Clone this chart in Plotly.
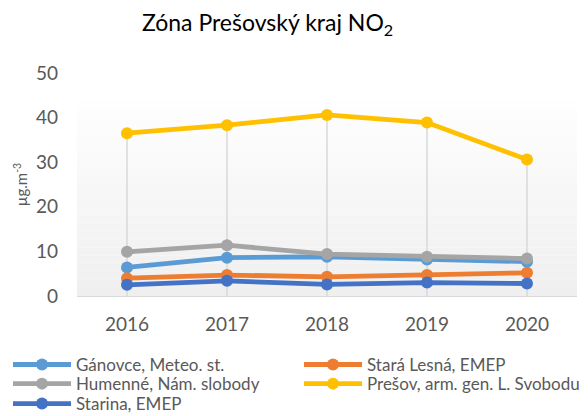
import plotly.graph_objects as go

years = ["2016", "2017", "2018", "2019", "2020"]

ganovce = [6.4, 8.6, 8.8, 8.2, 7.7]
stara_lesna = [4.0, 4.7, 4.3, 4.7, 5.2]
humenne = [9.9, 11.4, 9.4, 8.8, 8.4]
presov = [36.5, 38.3, 40.6, 38.9, 30.6]
starina = [2.5, 3.4, 2.6, 3.0, 2.8]

series = [
    ("Gánovce, Meteo. st.", ganovce, "#5B9BD5"),
    ("Stará Lesná, EMEP", stara_lesna, "#ED7D31"),
    ("Humenné, Nám. slobody", humenne, "#A5A5A5"),
    ("Prešov, arm. gen. L. Svobodu", presov, "#FFC000"),
    ("Starina, EMEP", starina, "#4472C4"),
]

y_ticks = [0, 10, 20, 30, 40, 50]

FONT = "Lato"
TEXT = "#595959"

fig = go.Figure()

# drop lines from the highest value of each year down to the axis
drop_x, drop_y = [], []
for i, yr in enumerate(years):
    top = max(s[1][i] for s in series)
    drop_x += [yr, yr, None]
    drop_y += [0, top, None]
fig.add_trace(go.Scatter(x=drop_x, y=drop_y, mode="lines",
                         line=dict(color="#D9D9D9", width=1.5),
                         hoverinfo="skip", showlegend=False))

# each series gets its own legend box so the entries form a 2-column grid
legend_ids = ["legend", "legend2", "legend3", "legend4", "legend5"]
for (name, vals, color), lg in zip(series, legend_ids):
    fig.add_trace(go.Scatter(
        x=years, y=vals, name=name, mode="lines+markers",
        line=dict(color=color, width=4.8),
        marker=dict(color=color, size=12),
        legend=lg,
    ))

# soft vertical gradient behind the plot
shapes = []
n = 24
g_top, g_bot = 43.5, 0.0
c_top, c_bot = 254, 239
for k in range(n):
    y0 = g_bot + (g_top - g_bot) * k / n
    y1 = g_bot + (g_top - g_bot) * (k + 1) / n
    c = round(c_bot + (c_top - c_bot) * (k + 0.5) / n)
    shapes.append(dict(type="rect", xref="paper", yref="y", x0=0, x1=1,
                       y0=y0, y1=y1, fillcolor=f"rgb({c},{c},{c})",
                       line=dict(width=0), layer="below"))


def entry_legend(xleft, ytop):
    return dict(orientation="h", xref="container", yref="container",
                x=xleft, xanchor="left", y=ytop, yanchor="top",
                font=dict(family=FONT, size=17, color=TEXT),
                itemwidth=58, bgcolor="rgba(0,0,0,0)")


col_x = [8 / 588, 299 / 588]
row_y = [0.166, 0.120, 0.072]

fig.update_layout(
    width=588, height=416,
    margin=dict(l=77, r=11, t=73, b=120, autoexpand=False),
    paper_bgcolor="white", plot_bgcolor="white",
    shapes=shapes,
    title=dict(text="Zóna Prešovský kraj NO<sub>2</sub>",
               font=dict(family=FONT, size=23, color="#000000"),
               x=0.455, xanchor="center", y=0.945, yanchor="middle"),
    font=dict(family=FONT, color=TEXT),
    xaxis=dict(type="category", range=[-0.5, 4.5], showgrid=False,
               showline=True, linecolor="#D9D9D9", linewidth=1.3,
               ticks="", ticklabelstandoff=11,
               tickfont=dict(family=FONT, size=19, color=TEXT),
               zeroline=False),
    yaxis=dict(range=[0, 50], tickvals=y_ticks, showgrid=False,
               showline=False, zeroline=False, ticks="",
               ticklabelstandoff=18,
               tickfont=dict(family=FONT, size=19, color=TEXT),
               title=dict(text="µg.m<sup>-3</sup>", standoff=4,
                          font=dict(family=FONT, size=15, color=TEXT))),
    legend=entry_legend(col_x[0], row_y[0]),
    legend2=entry_legend(col_x[1], row_y[0]),
    legend3=entry_legend(col_x[0], row_y[1]),
    legend4=entry_legend(col_x[1], row_y[1]),
    legend5=entry_legend(col_x[0], row_y[2]),
)

fig.write_html("out.html")
